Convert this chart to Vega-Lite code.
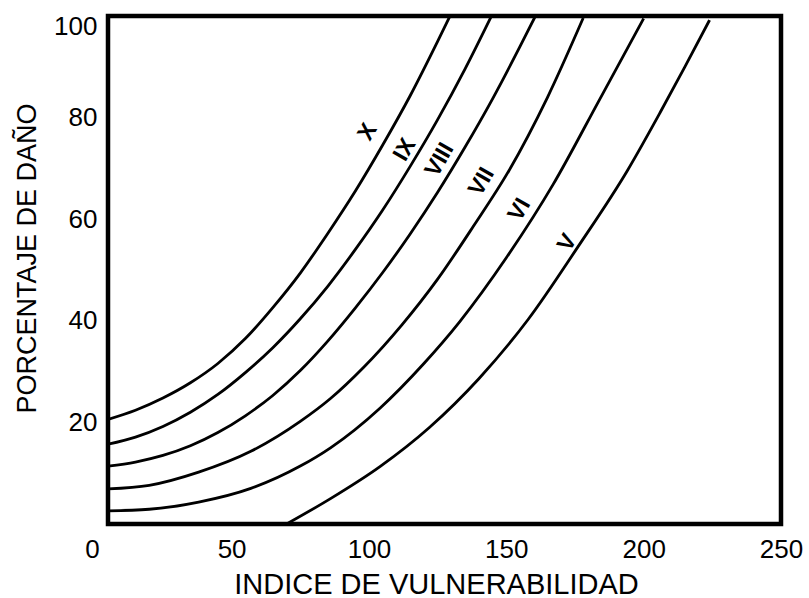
{
  "$schema": "https://vega.github.io/schema/vega-lite/v6.json",
  "width": 673,
  "height": 508,
  "autosize": "none",
  "padding": {"left": 108, "top": 16, "right": 28, "bottom": 74},
  "background": "white",
  "config": {
    "view": {"stroke": "black", "strokeWidth": 4.5},
    "font": "Liberation Sans"
  },
  "datasets": {
    "curves": [
      {"curve": "X", "x": 5, "y": 20.6}, {"curve": "X", "x": 15, "y": 22.4}, {"curve": "X", "x": 25, "y": 24.8}, {"curve": "X", "x": 35, "y": 27.8}, {"curve": "X", "x": 45, "y": 31.6}, {"curve": "X", "x": 55, "y": 36.5}, {"curve": "X", "x": 65, "y": 42.6}, {"curve": "X", "x": 75, "y": 49.4}, {"curve": "X", "x": 85, "y": 57.2}, {"curve": "X", "x": 95, "y": 65.5}, {"curve": "X", "x": 105, "y": 74.6}, {"curve": "X", "x": 115, "y": 84.3}, {"curve": "X", "x": 125, "y": 95}, {"curve": "X", "x": 129.5, "y": 100},
      {"curve": "IX", "x": 5, "y": 15.7}, {"curve": "IX", "x": 15, "y": 17.1}, {"curve": "IX", "x": 25, "y": 19.2}, {"curve": "IX", "x": 35, "y": 22.0}, {"curve": "IX", "x": 45, "y": 25.5}, {"curve": "IX", "x": 55, "y": 29.8}, {"curve": "IX", "x": 65, "y": 34.7}, {"curve": "IX", "x": 75, "y": 40.4}, {"curve": "IX", "x": 85, "y": 46.8}, {"curve": "IX", "x": 95, "y": 54.0}, {"curve": "IX", "x": 105, "y": 61.8}, {"curve": "IX", "x": 115, "y": 70.4}, {"curve": "IX", "x": 125, "y": 79.6}, {"curve": "IX", "x": 135, "y": 89.6}, {"curve": "IX", "x": 144.6, "y": 100},
      {"curve": "VIII", "x": 5, "y": 11.4}, {"curve": "VIII", "x": 15, "y": 12.2}, {"curve": "VIII", "x": 25, "y": 13.5}, {"curve": "VIII", "x": 35, "y": 15.4}, {"curve": "VIII", "x": 45, "y": 18.0}, {"curve": "VIII", "x": 55, "y": 21.3}, {"curve": "VIII", "x": 65, "y": 25.3}, {"curve": "VIII", "x": 75, "y": 30.2}, {"curve": "VIII", "x": 85, "y": 36.0}, {"curve": "VIII", "x": 95, "y": 42.5}, {"curve": "VIII", "x": 105, "y": 49.5}, {"curve": "VIII", "x": 115, "y": 57.1}, {"curve": "VIII", "x": 125, "y": 65.3}, {"curve": "VIII", "x": 135, "y": 74.2}, {"curve": "VIII", "x": 145, "y": 83.7}, {"curve": "VIII", "x": 155, "y": 94.0}, {"curve": "VIII", "x": 160.6, "y": 100},
      {"curve": "VII", "x": 5, "y": 6.9}, {"curve": "VII", "x": 20, "y": 7.6}, {"curve": "VII", "x": 38, "y": 10.2}, {"curve": "VII", "x": 57, "y": 14.3}, {"curve": "VII", "x": 75, "y": 20.2}, {"curve": "VII", "x": 86, "y": 24.7}, {"curve": "VII", "x": 98, "y": 30.8}, {"curve": "VII", "x": 112, "y": 39.2}, {"curve": "VII", "x": 125, "y": 48.2}, {"curve": "VII", "x": 138, "y": 58.6}, {"curve": "VII", "x": 151, "y": 69.6}, {"curve": "VII", "x": 165, "y": 84.0}, {"curve": "VII", "x": 178, "y": 99.6},
      {"curve": "VI", "x": 5, "y": 2.6}, {"curve": "VI", "x": 20, "y": 2.9}, {"curve": "VI", "x": 38, "y": 4.3}, {"curve": "VI", "x": 57, "y": 7.0}, {"curve": "VI", "x": 75, "y": 11.4}, {"curve": "VI", "x": 86, "y": 15.0}, {"curve": "VI", "x": 104, "y": 22.8}, {"curve": "VI", "x": 120, "y": 31.6}, {"curve": "VI", "x": 133, "y": 39.8}, {"curve": "VI", "x": 150, "y": 52.4}, {"curve": "VI", "x": 167, "y": 66.8}, {"curve": "VI", "x": 184, "y": 83.6}, {"curve": "VI", "x": 200, "y": 99.5},
      {"curve": "V", "x": 70, "y": 0}, {"curve": "V", "x": 86, "y": 5.0}, {"curve": "V", "x": 104, "y": 11.3}, {"curve": "V", "x": 122, "y": 19.0}, {"curve": "V", "x": 140, "y": 28.6}, {"curve": "V", "x": 158, "y": 40.3}, {"curve": "V", "x": 176, "y": 54.5}, {"curve": "V", "x": 194, "y": 69.5}, {"curve": "V", "x": 206, "y": 81.0}, {"curve": "V", "x": 215, "y": 90.0}, {"curve": "V", "x": 224, "y": 99.2}
    ],
    "labels": [
      {"label": "X", "x": 99.5, "y": 77.2},
      {"label": "IX", "x": 113, "y": 73.7},
      {"label": "VIII", "x": 125.7, "y": 71.7},
      {"label": "VII", "x": 141, "y": 67.4},
      {"label": "VI", "x": 154.8, "y": 61.9},
      {"label": "V", "x": 172.2, "y": 55.4}
    ]
  },
  "layer": [
    {
      "data": {"name": "curves"},
      "mark": {"type": "line", "interpolate": "monotone", "color": "black", "strokeWidth": 2.8, "clip": true},
      "encoding": {
        "x": {
          "field": "x", "type": "quantitative",
          "scale": {"domain": [5, 250], "nice": false, "zero": false},
          "axis": {
            "values": [5, 50, 100, 150, 200, 250],
            "labelExpr": "datum.value == 5 ? '0' : datum.label",
            "title": "INDICE DE VULNERABILIDAD",
            "grid": false, "ticks": false, "domain": false,
            "labelFont": "Liberation Sans", "labelFontSize": 26, "labelColor": "black",
            "labelPadding": 12, "labelFlush": false,
            "labelOffset": {"condition": {"test": "datum.value == 5", "value": -16}, "value": 0},
            "titleFont": "Liberation Sans", "titleFontSize": 29, "titleFontWeight": "normal", "titleColor": "black",
            "titlePadding": 8, "titleX": 328
          }
        },
        "y": {
          "field": "y", "type": "quantitative",
          "scale": {"domain": [0, 100], "nice": false},
          "axis": {
            "values": [20, 40, 60, 80, 100],
            "title": "PORCENTAJE DE DAÑO",
            "grid": false, "ticks": false, "domain": false,
            "labelFont": "Liberation Sans", "labelFontSize": 26, "labelColor": "black",
            "labelPadding": 11, "labelFlush": false,
            "labelOffset": {"condition": {"test": "datum.value == 100", "value": 10}, "value": 0},
            "titleFont": "Liberation Sans", "titleFontSize": 27, "titleFontWeight": "normal", "titleColor": "black",
            "titlePadding": 12, "titleY": 242
          }
        },
        "detail": {"field": "curve"}
      }
    },
    {
      "data": {"name": "labels"},
      "mark": {"type": "text", "angle": -60, "fontWeight": "bold", "fontSize": 23, "font": "Liberation Sans", "color": "black"},
      "encoding": {
        "x": {"field": "x", "type": "quantitative"},
        "y": {"field": "y", "type": "quantitative"},
        "text": {"field": "label"}
      }
    }
  ]
}
